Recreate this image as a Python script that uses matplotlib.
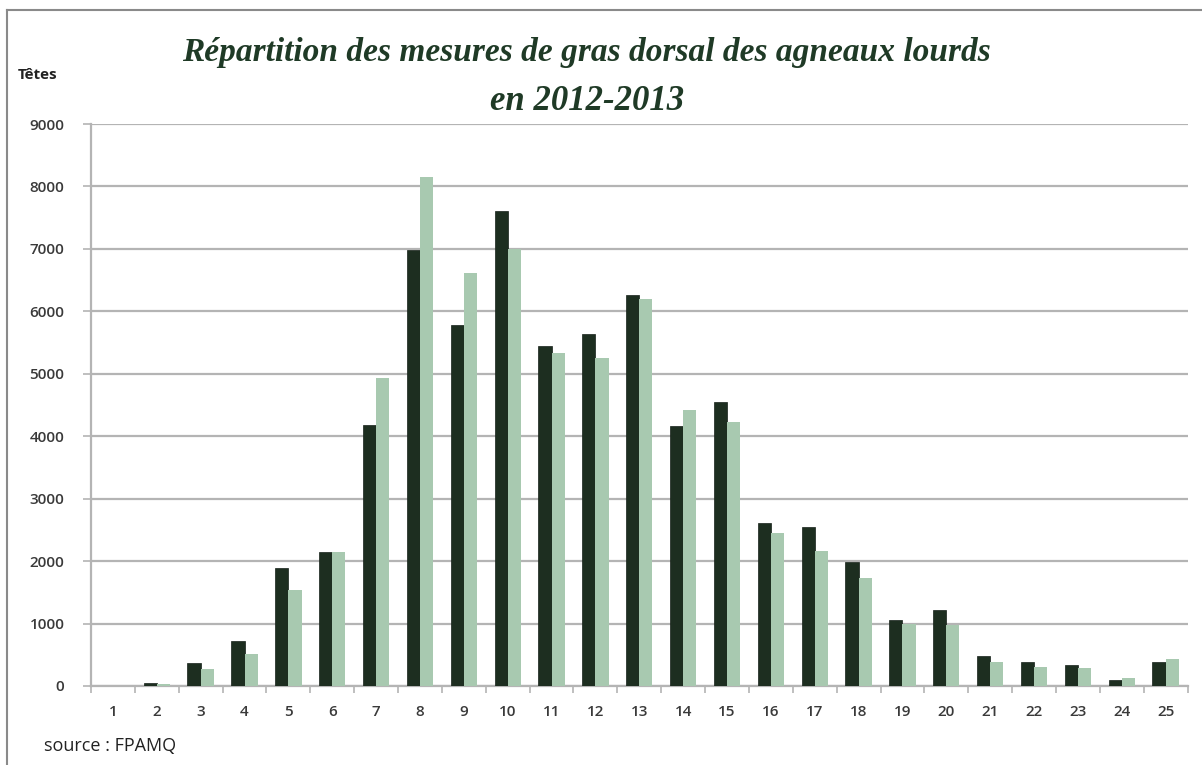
import numpy as np
import matplotlib.pyplot as plt
from matplotlib.lines import Line2D

# données
classes = [str(i) for i in range(1, 26)]
tetes_2012 = [0, 40, 375, 720, 1890, 2150, 4180, 6975, 5780, 7600,
              5440, 5640, 6255, 4170, 4550, 2605, 2545, 1985, 1055, 1220,
              480, 380, 330, 100, 385]
tetes_2013 = [0, 25, 275, 505, 1530, 2140, 4940, 8145, 6620, 6995,
              5325, 5250, 6190, 4420, 4225, 2450, 2160, 1735, 995, 975,
              390, 300, 280, 120, 430]
yticks = [0, 1000, 2000, 3000, 4000, 5000, 6000, 7000, 8000, 9000]

fonce = '#1d2e20'
clair = '#a8c9b0'
grille = '#b4b4b4'
texte = '#3a3a3a'

plt.rcParams['font.family'] = ['Open Sans', 'DejaVu Sans']

fig = plt.figure(figsize=(12.02, 7.65), dpi=100)
ax = fig.add_axes([0.0757, 0.1033, 0.9123, 0.7346])

x = np.arange(len(classes))
w = 0.3
ax.bar(x - w / 2, tetes_2012, width=w, color=fonce, edgecolor='#152018', linewidth=0.5, zorder=3)
ax.bar(x + w / 2, tetes_2013, width=w, color=clair, linewidth=0, zorder=3)

ax.set_xlim(-0.5, len(classes) - 0.5)
ax.set_ylim(0, 9000)
ax.set_yticks(yticks)
ax.set_yticklabels([str(v) for v in yticks], fontsize=11, weight='semibold', color=texte)
ax.yaxis.grid(True, color=grille, linewidth=1.6, zorder=0)
ax.set_axisbelow(True)

# graduations x entre les classes, libellés au centre
ax.set_xticks(np.arange(-0.5, len(classes)), minor=False)
ax.set_xticklabels([])
ax.set_xticks(x, minor=True)
ax.set_xticklabels(classes, minor=True, fontsize=11, weight='semibold', color=texte)
ax.tick_params(axis='x', which='major', length=5, color=grille, width=1.2)
ax.tick_params(axis='x', which='minor', length=0, pad=14)
ax.tick_params(axis='y', length=6, color=grille, width=1.2, pad=13)

for s in ['top', 'right']:
    ax.spines[s].set_visible(False)
for s in ['left', 'bottom']:
    ax.spines[s].set_color(grille)
    ax.spines[s].set_linewidth(1.6)

# titre
fig.text(0.488, 0.932, 'Répartition des mesures de gras dorsal des agneaux lourds',
         ha='center', va='center', fontsize=24, family='Liberation Serif',
         style='italic', weight='bold', color='#1f3a26')
fig.text(0.488, 0.867, 'en 2012-2013',
         ha='center', va='center', fontsize=25, family='Liberation Serif',
         style='italic', weight='bold', color='#1f3a26')

fig.text(0.015, 0.902, 'Têtes', fontsize=11, weight='bold', color='#222222', va='center')
fig.text(0.037, 0.025, 'source : FPAMQ', fontsize=13, weight='medium', color='#222222', va='center')

# cadre
fig.add_artist(Line2D([0.006, 1.0], [0.987, 0.987], transform=fig.transFigure, color='#8a8a8a', linewidth=1.5))
fig.add_artist(Line2D([0.006, 0.006], [0.0, 0.987], transform=fig.transFigure, color='#8a8a8a', linewidth=1.5))

fig.savefig('out.png', dpi=100)
